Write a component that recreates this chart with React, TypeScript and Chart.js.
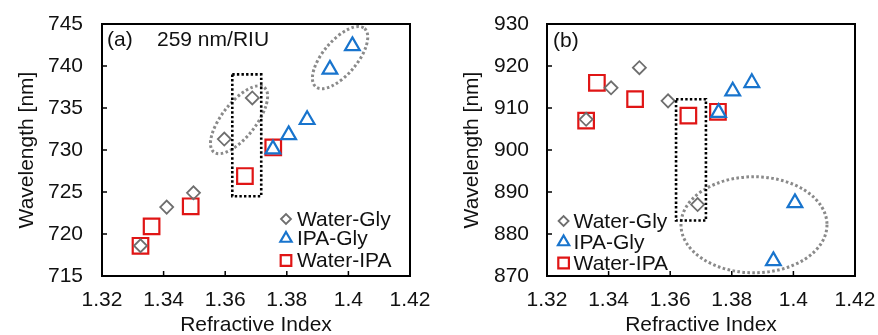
import { useEffect, useRef } from 'react';
import { Chart, registerables } from 'chart.js';

Chart.register(...registerables);

const FONT = '"Liberation Sans", Arial, sans-serif';
const TEXT = '#111111';

const seriesNames = ['Water-Gly', 'IPA-Gly', 'Water-IPA'];
const xTicks = [1.32, 1.34, 1.36, 1.38, 1.4, 1.42];
const yTicksA = [715, 720, 725, 730, 735, 740, 745];
const yTicksB = [870, 880, 890, 900, 910, 920, 930];

// Panel (a)
const waterGlyAX = [1.3325, 1.341, 1.3497, 1.3597, 1.3688];
const waterGlyAY = [718.6, 723.2, 724.9, 731.3, 736.2];
const ipaGlyAX = [1.3755, 1.3806, 1.3866, 1.394, 1.4013];
const ipaGlyAY = [730.1, 731.8, 733.6, 739.6, 742.4];
const waterIpaAX = [1.3325, 1.3361, 1.3488, 1.3664, 1.3756];
const waterIpaAY = [718.6, 720.9, 723.3, 726.9, 730.3];

// Panel (b)
const waterGlyBX = [1.3327, 1.3408, 1.35, 1.3593, 1.3689];
const waterGlyBY = [907.3, 914.8, 919.6, 911.7, 887.0];
const ipaGlyBX = [1.3757, 1.3803, 1.3865, 1.3935, 1.4005];
const ipaGlyBY = [908.9, 914.0, 916.0, 873.6, 887.4];
const waterIpaBX = [1.3327, 1.3362, 1.3486, 1.3659, 1.3755];
const waterIpaBY = [907.0, 916.0, 912.1, 908.2, 909.1];

// Annotations (data coordinates)
const rectA = { x1: 1.3623, x2: 1.3717, y1: 724.5, y2: 739.0 };
const ellipsesA = [
  { cx: 1.3645, cy: 733.6, rx: 41, ry: 17, rot: -52 },
  { cx: 1.3973, cy: 741.0, rx: 38, ry: 17, rot: -50 },
];
const rectB = { x1: 1.3619, x2: 1.3716, y1: 883.2, y2: 912.1 };
const ellipsesB = [{ cx: 1.3872, cy: 882.2, rx: 73, ry: 48, rot: 0 }];

const pts = (xs: number[], ys: number[]) => xs.map((x, i) => ({ x, y: ys[i] }));

const styles = [
  { pointStyle: 'rectRot', radius: 6.5, color: '#6e6e6e', width: 1.8, legendRadius: 5 },
  { pointStyle: 'triangle', radius: 8.5, color: '#1874cd', width: 2.2, legendRadius: 6.5 },
  { pointStyle: 'rect', radius: 11, color: '#e01515', width: 2.2, legendRadius: 7.5 },
];

function drawMarker(ctx: CanvasRenderingContext2D, style: string, x: number, y: number, r: number) {
  ctx.beginPath();
  if (style === 'rectRot') {
    ctx.moveTo(x - r, y);
    ctx.lineTo(x, y - r);
    ctx.lineTo(x + r, y);
    ctx.lineTo(x, y + r);
    ctx.closePath();
  } else if (style === 'triangle') {
    for (let k = 0; k < 3; k++) {
      const a = (k * 2 * Math.PI) / 3;
      const px = x + Math.sin(a) * r;
      const py = y - Math.cos(a) * r;
      if (k === 0) ctx.moveTo(px, py);
      else ctx.lineTo(px, py);
    }
    ctx.closePath();
  } else {
    const s = Math.SQRT1_2 * r;
    ctx.rect(x - s, y - s, 2 * s, 2 * s);
  }
  ctx.stroke();
}

const panelPlugin = {
  id: 'panel',
  beforeDatasetsDraw(chart: any, _args: any, opts: any) {
    const { ctx, chartArea: ca, scales } = chart;
    ctx.save();
    ctx.strokeStyle = '#000';
    ctx.lineWidth = 2;
    ctx.strokeRect(ca.left, ca.top, ca.right - ca.left, ca.bottom - ca.top);
    ctx.lineWidth = 1.5;
    ctx.beginPath();
    scales.x.ticks.forEach((t: any) => {
      const px = scales.x.getPixelForValue(t.value);
      ctx.moveTo(px, ca.bottom);
      ctx.lineTo(px, ca.bottom - 5);
    });
    scales.y.ticks.forEach((t: any) => {
      const py = scales.y.getPixelForValue(t.value);
      ctx.moveTo(ca.left, py);
      ctx.lineTo(ca.left + 5, py);
    });
    ctx.stroke();
    ctx.restore();
  },
  afterDatasetsDraw(chart: any, _args: any, opts: any) {
    const { ctx, chartArea: ca, scales } = chart;
    const sx = scales.x, sy = scales.y;
    ctx.save();
    ctx.strokeStyle = '#8a8a8a';
    ctx.lineWidth = 3;
    ctx.setLineDash([2.6, 2.4]);
    (opts.ellipses || []).forEach((e: any) => {
      ctx.beginPath();
      ctx.ellipse(sx.getPixelForValue(e.cx), sy.getPixelForValue(e.cy), e.rx, e.ry, (e.rot * Math.PI) / 180, 0, Math.PI * 2);
      ctx.stroke();
    });
    if (opts.rect) {
      const r = opts.rect;
      const x1 = sx.getPixelForValue(r.x1), x2 = sx.getPixelForValue(r.x2);
      const y1 = sy.getPixelForValue(r.y1), y2 = sy.getPixelForValue(r.y2);
      ctx.strokeStyle = '#000';
      ctx.lineWidth = 2.6;
      ctx.setLineDash([2.4, 2.2]);
      ctx.strokeRect(Math.min(x1, x2), Math.min(y1, y2), Math.abs(x2 - x1), Math.abs(y2 - y1));
    }
    ctx.setLineDash([]);
    ctx.fillStyle = TEXT;
    ctx.font = `21px ${FONT}`;
    ctx.textBaseline = 'middle';
    ctx.textAlign = 'left';
    (opts.labels || []).forEach((l: any) => {
      ctx.fillText(l.text, ca.left + l.dx, ca.top + l.dy);
    });
    const lg = opts.legend;
    chart.data.datasets.forEach((ds: any, i: number) => {
      const st = styles[i];
      const mx = lg.fromRight ? ca.right - lg.dx : ca.left + lg.dx;
      const my = ca.top + lg.rows[i];
      ctx.strokeStyle = st.color;
      ctx.lineWidth = st.width;
      drawMarker(ctx, st.pointStyle, mx, my, st.legendRadius);
      ctx.fillStyle = TEXT;
      ctx.font = `21px ${FONT}`;
      ctx.fillText(ds.label, mx + lg.textGap, my + 1);
    });
    ctx.restore();
  },
};

const zeroPadding = (s: any) => {
  s.paddingTop = 0;
  s.paddingBottom = 0;
  s.paddingLeft = 0;
  s.paddingRight = 0;
};

function makeConfig(p: any) {
  return {
    type: 'scatter',
    data: {
      datasets: p.series.map((s: any, i: number) => ({
        label: seriesNames[i],
        data: s,
        pointStyle: styles[i].pointStyle,
        pointRadius: styles[i].radius,
        pointHoverRadius: styles[i].radius,
        borderColor: styles[i].color,
        backgroundColor: 'rgba(0,0,0,0)',
        pointBorderWidth: styles[i].width,
        borderWidth: styles[i].width,
        showLine: false,
      })),
    },
    options: {
      responsive: false,
      animation: false,
      events: [],
      layout: { autoPadding: false, padding: { left: 0, top: 24, right: p.padRight, bottom: 0 } },
      plugins: {
        legend: { display: false },
        tooltip: { enabled: false },
        panel: { rect: p.rect, ellipses: p.ellipses, labels: p.labels, legend: p.legend },
      },
      scales: {
        x: {
          type: 'linear',
          min: xTicks[0],
          max: xTicks[xTicks.length - 1],
          afterBuildTicks: (s: any) => {
            s.ticks = xTicks.map((v) => ({ value: v }));
          },
          afterFit: (s: any) => {
            s.height = 59;
            zeroPadding(s);
          },
          grid: { display: false, drawTicks: false },
          border: { display: false },
          ticks: {
            padding: 12,
            color: TEXT,
            font: { size: 21, family: FONT },
            maxRotation: 0,
            autoSkip: false,
            callback: (v: any) => String(Number(Number(v).toFixed(2))),
          },
          title: {
            display: true,
            text: 'Refractive Index',
            color: TEXT,
            font: { size: 21, family: FONT },
            padding: { top: 0, bottom: -3 },
          },
        },
        y: {
          type: 'linear',
          min: p.yTicks[0],
          max: p.yTicks[p.yTicks.length - 1],
          afterBuildTicks: (s: any) => {
            s.ticks = p.yTicks.map((v: number) => ({ value: v }));
          },
          afterFit: (s: any) => {
            s.width = p.yAxisWidth;
            zeroPadding(s);
          },
          grid: { display: false, drawTicks: false },
          border: { display: false },
          ticks: {
            padding: p.yTickPad,
            color: TEXT,
            font: { size: 21, family: FONT },
            autoSkip: false,
            callback: (v: any) => String(v),
          },
          title: {
            display: true,
            text: 'Wavelength [nm]',
            color: TEXT,
            font: { size: 21, family: FONT },
            padding: { top: p.yTitlePad, bottom: 0 },
          },
        },
      },
    },
    plugins: [panelPlugin],
  };
}

const panelA = {
  series: [pts(waterGlyAX, waterGlyAY), pts(ipaGlyAX, ipaGlyAY), pts(waterIpaAX, waterIpaAY)],
  yTicks: yTicksA,
  yAxisWidth: 102,
  padRight: 30,
  yTickPad: 19,
  yTitlePad: 15,
  rect: rectA,
  ellipses: ellipsesA,
  labels: [
    { text: '(a)', dx: 5, dy: 16 },
    { text: '259 nm/RIU', dx: 55, dy: 16 },
  ],
  legend: { fromRight: true, dx: 124, rows: [195, 214.5, 236.5], textGap: 11 },
};

const panelB = {
  series: [pts(waterGlyBX, waterGlyBY), pts(ipaGlyBX, ipaGlyBY), pts(waterIpaBX, waterIpaBY)],
  yTicks: yTicksB,
  yAxisWidth: 107,
  padRight: 23,
  yTickPad: 18,
  yTitlePad: 20,
  rect: rectB,
  ellipses: ellipsesB,
  labels: [{ text: '(b)', dx: 6, dy: 17.5 }],
  legend: { fromRight: false, dx: 16.6, rows: [197, 218, 239], textGap: 10 },
};

function Panel({ spec, left, width }: { spec: any; left: number; width: number }) {
  const ref = useRef<HTMLCanvasElement | null>(null);
  useEffect(() => {
    if (!ref.current) return;
    const chart = new Chart(ref.current, makeConfig(spec) as any);
    return () => chart.destroy();
  }, [spec]);
  return (
    <canvas
      ref={ref}
      width={width}
      height={335}
      style={{ position: 'absolute', left, top: 0, width, height: 335 }}
    />
  );
}

export default function App() {
  return (
    <div style={{ position: 'fixed', left: 0, top: 0, width: 878, height: 335, background: '#fff', overflow: 'hidden' }}>
      <Panel spec={panelA} left={0} width={440} />
      <Panel spec={panelB} left={440} width={438} />
    </div>
  );
}
